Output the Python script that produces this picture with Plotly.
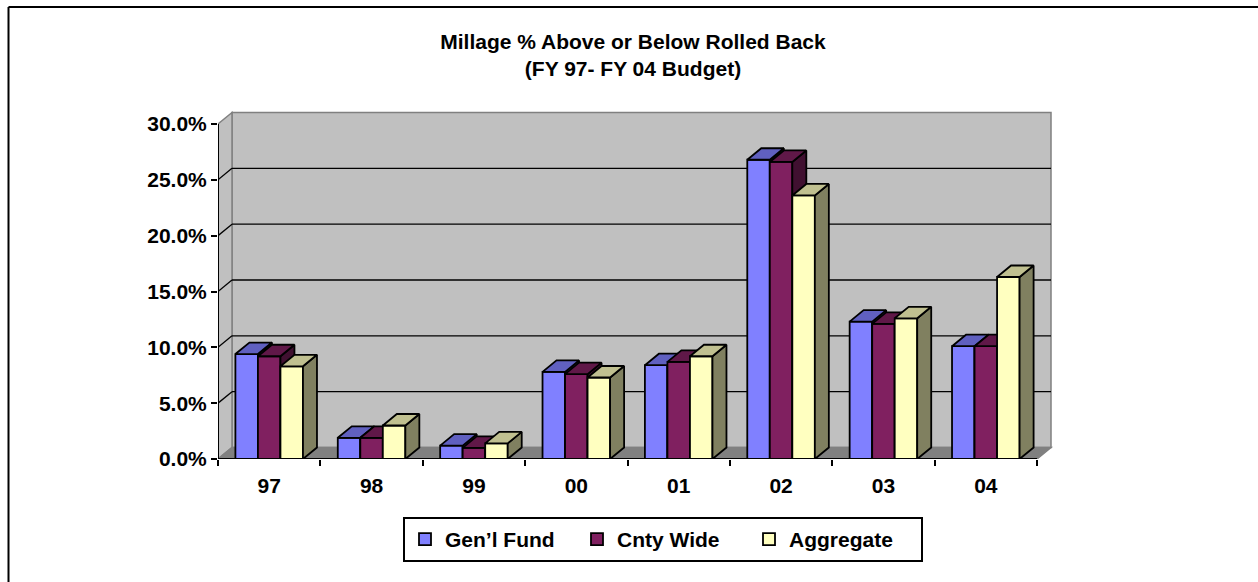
import plotly.graph_objects as go

# ---- data -------------------------------------------------------------
categories = ["97", "98", "99", "00", "01", "02", "03", "04"]
series_names = ["Gen\u2019l Fund", "Cnty Wide", "Aggregate"]
gen_fund = [9.4, 1.9, 1.2, 7.8, 8.4, 26.8, 12.3, 10.1]
cnty_wide = [9.2, 1.9, 1.0, 7.6, 8.7, 26.6, 12.1, 10.1]
aggregate = [8.3, 3.0, 1.4, 7.3, 9.2, 23.6, 12.6, 16.3]
y_ticks = [0, 5, 10, 15, 20, 25, 30]

# front / top / side shades for each series
front_colors = ["#8080FF", "#802060", "#FFFFC0"]
top_colors = ["#6060C0", "#601848", "#C0C090"]
side_colors = ["#404080", "#401030", "#808060"]

# ---- layout geometry --------------------------------------------------
W, H = 1258, 582
ML, MR, MT, MB = 218, 202, 108, 123
PW, PH = W - ML - MR, H - MT - MB
PX_PER_CAT = 102.375          # horizontal pixels per category
PX_PER_PCT = 335.0 / 30.0     # vertical pixels per percentage point
x_max = PW / PX_PER_CAT
y_max = PH / PX_PER_PCT

# depth of the pseudo-3D box, in data units
DX = 14.0 / PX_PER_CAT
DY = 11.5 / PX_PER_PCT

BAR_W = 0.22
GROUP_START = -0.33
n_cat = len(categories)
centers = [k + 0.5 for k in range(n_cat)]
all_values = [gen_fund, cnty_wide, aggregate]

FONT = "Liberation Sans, Arial, sans-serif"
EDGE = 1.8


def paper_x(px):
    return (px - ML) / PW


def paper_y(py):
    return 1 - (py - MT) / PH


fig = go.Figure()

axis_ids = ["", "2", "3"]
for i, (name, vals) in enumerate(zip(series_names, all_values)):
    xa, ya = "x" + axis_ids[i], "y" + axis_ids[i]
    off = GROUP_START + i * BAR_W

    # front faces
    fig.add_trace(go.Bar(
        x=centers, y=vals, width=BAR_W, offset=off, name=name,
        marker=dict(color=front_colors[i], line=dict(color="black", width=EDGE)),
        xaxis=xa, yaxis=ya, showlegend=True, legendrank=i + 1,
    ))

    # side and top faces derived from the same values
    sx, sy, tx, ty = [], [], [], []
    for c, v in zip(centers, vals):
        x0 = c + off
        x1 = x0 + BAR_W
        sx += [x1, x1 + DX, x1 + DX, x1, x1, None]
        sy += [0, DY, v + DY, v, 0, None]
        tx += [x0, x0 + DX, x1 + DX, x1, x0, None]
        ty += [v, v + DY, v + DY, v, v, None]
    fig.add_trace(go.Scatter(
        x=sx, y=sy, mode="lines", fill="toself", fillcolor=side_colors[i],
        line=dict(color="black", width=EDGE), xaxis=xa, yaxis=ya,
        showlegend=False, hoverinfo="skip",
    ))
    fig.add_trace(go.Scatter(
        x=tx, y=ty, mode="lines", fill="toself", fillcolor=top_colors[i],
        line=dict(color="black", width=EDGE), xaxis=xa, yaxis=ya,
        showlegend=False, hoverinfo="skip",
    ))

# ---- walls, floor and gridlines ---------------------------------------
top = y_ticks[-1]
shapes = []
wall_line = dict(color="#808080", width=1.5)
# back wall
shapes.append(dict(type="rect", xref="x", yref="y", x0=DX, y0=DY,
                   x1=n_cat + DX, y1=top + DY, fillcolor="#C0C0C0",
                   line=wall_line, layer="below"))
# left side wall
shapes.append(dict(type="path", xref="x", yref="y",
                   path=f"M0,0 L0,{top} L{DX},{top + DY} L{DX},{DY} Z",
                   fillcolor="#C0C0C0", line=wall_line, layer="below"))
# floor
shapes.append(dict(type="path", xref="x", yref="y",
                   path=f"M0,0 L{n_cat},0 L{n_cat + DX},{DY} L{DX},{DY} Z",
                   fillcolor="#808080", line=wall_line, layer="below"))
# gridlines on back and side walls
for v in y_ticks[1:-1]:
    shapes.append(dict(type="line", xref="x", yref="y", x0=DX, y0=v + DY,
                       x1=n_cat + DX, y1=v + DY,
                       line=dict(color="black", width=1.3), layer="below"))
    shapes.append(dict(type="line", xref="x", yref="y", x0=0, y0=v,
                       x1=DX, y1=v + DY,
                       line=dict(color="black", width=1.3), layer="below"))
# front axis lines
shapes.append(dict(type="line", xref="x", yref="y", x0=0, y0=0, x1=0, y1=top,
                   line=dict(color="black", width=2), layer="below"))
shapes.append(dict(type="line", xref="x", yref="y", x0=0, y0=0, x1=n_cat, y1=0,
                   line=dict(color="black", width=2), layer="above"))
# outer chart frame (top and left edges)
frame = dict(color="black", width=2)
shapes.append(dict(type="line", xref="paper", yref="paper",
                   x0=paper_x(8.5), y0=paper_y(7), x1=paper_x(1300), y1=paper_y(7),
                   line=frame))
shapes.append(dict(type="line", xref="paper", yref="paper",
                   x0=paper_x(8.5), y0=paper_y(7), x1=paper_x(8.5), y1=paper_y(620),
                   line=frame))

tick_font = dict(family=FONT, size=21, color="black", weight="bold")

base_x = dict(range=[0, x_max], showgrid=False, zeroline=False, showline=False,
              fixedrange=True)
base_y = dict(range=[0, y_max], showgrid=False, zeroline=False, showline=False,
              fixedrange=True)

fig.update_layout(
    width=W, height=H,
    margin=dict(l=ML, r=MR, t=MT, b=MB, autoexpand=False),
    paper_bgcolor="white", plot_bgcolor="white",
    barmode="overlay",
    title=dict(
        text="Millage % Above or Below Rolled Back<br>(FY 97- FY 04 Budget)",
        font=dict(family=FONT, size=21, color="black", weight="bold"),
        x=633 / W, xanchor="center", xref="container",
        y=1 - 49 / H, yanchor="top", yref="container",
    ),
    xaxis=dict(
        **base_x,
        tickmode="array", tickvals=centers, ticktext=categories,
        ticks="", tickfont=tick_font, ticklabelstandoff=12,
        minor=dict(tickmode="array", tickvals=list(range(n_cat + 1)),
                   ticks="outside", ticklen=6, tickwidth=2, tickcolor="black"),
    ),
    yaxis=dict(
        **base_y,
        tickmode="array", tickvals=y_ticks,
        ticktext=[f"{v:.1f}%" for v in y_ticks],
        ticks="outside", ticklen=6, tickwidth=2, tickcolor="black",
        tickfont=tick_font,
    ),
    xaxis2=dict(**base_x, overlaying="x", matches="x", visible=False),
    yaxis2=dict(**base_y, overlaying="y", matches="y", visible=False),
    xaxis3=dict(**base_x, overlaying="x", matches="x", visible=False),
    yaxis3=dict(**base_y, overlaying="y", matches="y", visible=False),
    shapes=shapes,
    showlegend=True,
    legend=dict(
        orientation="h", xref="container", yref="container",
        x=403 / W, y=1 - 517 / H, xanchor="left", yanchor="top",
        bordercolor="black", borderwidth=2, bgcolor="white",
        font=dict(family=FONT, size=21, color="black", weight="bold"),
        traceorder="normal", entrywidth=127, entrywidthmode="pixels",
    ),
)

fig.write_html("out.html")
